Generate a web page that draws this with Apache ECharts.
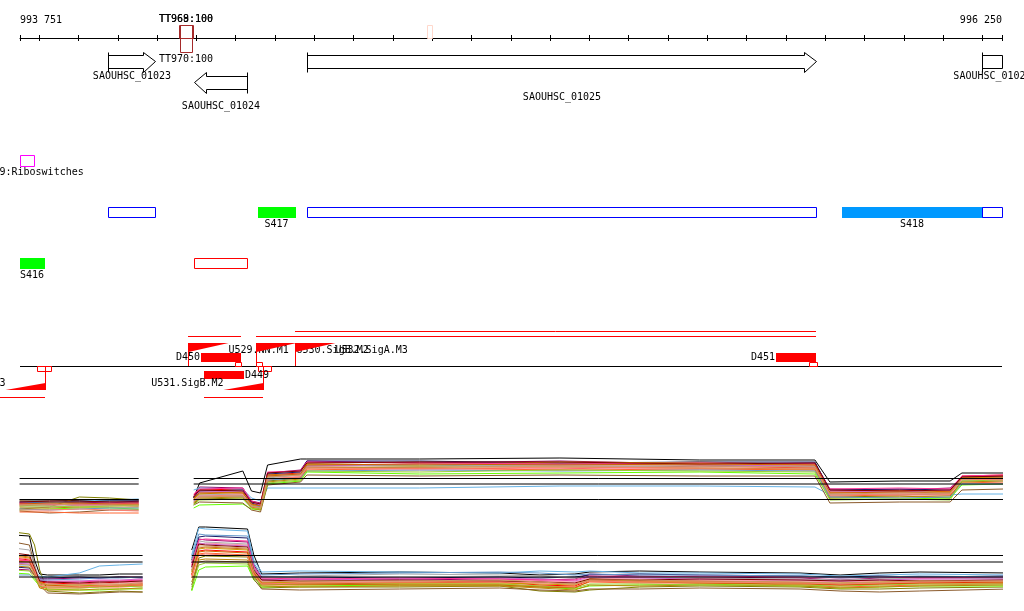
<!DOCTYPE html>
<html><head><meta charset="utf-8">
<script src="https://cdn.jsdelivr.net/npm/echarts@6/dist/echarts.min.js"></script>
<style>html,body{margin:0;padding:0;background:#fff}#c{width:1024px;height:611px}</style>
</head><body><div id="c"></div>
<script>
// ================= DATA =================
const viewStart = 993751, viewEnd = 996250;
const rulerTicks = [993751,993800,993900,994000,994100,994200,994300,994400,994500,994600,994700,994800,994900,995000,995100,995200,995300,995400,995500,995600,995700,995800,995900,996000,996100,996200,996250];
const rulerLabels = [993751, 996250];

const terminators = [
  {name:'TT968', start:994155, end:994190, strand:'+', score:100},
  {name:'TT969', start:994157, end:994188, strand:'+', score:100},
  {name:'TT970', start:994157, end:994188, strand:'-', score:100},
  {name:'TT971', start:994786, end:994799, strand:'+', score:5}
];
const genes = [
  {name:'SAOUHSC_01023', start:993975, end:994095, strand:'+'},
  {name:'SAOUHSC_01024', start:994194, end:994329, strand:'-'},
  {name:'SAOUHSC_01025', start:994481, end:995776, strand:'+'},
  {name:'SAOUHSC_01026', start:996200, end:996900, strand:'+'}
];
const riboswitches = [
  {name:'RF00059:Riboswitches', start:993733, end:993787}
];
const segments = [
  {name:'SAOUHSC_01023', start:993975, end:994095, strand:'+', kind:'cds'},
  {name:'S417', start:994356, end:994450, strand:'+', kind:'seg'},
  {name:'SAOUHSC_01025', start:994481, end:995776, strand:'+', kind:'cds'},
  {name:'S418', start:995843, end:996200, strand:'+', kind:'seg'},
  {name:'SAOUHSC_01026', start:996200, end:996900, strand:'+', kind:'cds'},
  {name:'S416', start:993751, end:993813, strand:'-', kind:'seg'},
  {name:'SAOUHSC_01024', start:994194, end:994329, strand:'-', kind:'cds'}
];
const units = [
  {start:994178, end:994314, strand:'+'},
  {start:994351, end:995776, strand:'+'},
  {start:994451, end:995776, strand:'+'},
  {start:994218, end:994369, strand:'-'},
  {start:993699, end:993815, strand:'-'}
];
const sites = [
  {start:994298, end:994314, strand:'+'},
  {start:994351, end:994368, strand:'+'},
  {start:995759, end:995778, strand:'+'},
  {start:993794, end:993830, strand:'-'},
  {start:994357, end:994391, strand:'-'}
];
const dFeatures = [
  {name:'D450', start:994211, end:994314, strand:'+'},
  {name:'D449', start:994218, end:994320, strand:'-'},
  {name:'D451', start:995676, end:995776, strand:'+'}
];
const promoters = [
  {name:'U528.SigA.M3', pos:993815, strand:'-'},
  {name:'U529.NN.M1', pos:994178, strand:'+'},
  {name:'U530.SigB.M2', pos:994351, strand:'+'},
  {name:'U531.SigB.M2', pos:994369, strand:'-'},
  {name:'U532.SigA.M3', pos:994451, strand:'+'}
];

// expression profiles (probe positions and levels)
const upperLeftX  = [993750,993826,993902,993979,994053];
const upperRightX = [994193,994208,994318,994340,994363,994381,994465,994481,994768,995125,995481,995774,995812,995990,996118,996148,996255];
const lowerLeftX  = [993734,993775,993788,993801,993821,993902,993953,994004,994063];
const lowerRightX = [994188,994206,994223,994330,994346,994366,994463,994717,994972,995074,995163,995201,995328,995481,995736,995838,995939,996041,996268];
const upperGapX = 994120, lowerGapX = 994120;

const upperLeft = [
  [4.0,4.0,3.9,4.0,4.0],
  [3.8,3.6,3.4,3.6,3.6],
  [2.2,2.6,4.6,4.4,4.0],
  [3.2,3.0,3.2,3.0,3.2],
  [3.4,3.4,3.6,3.4,3.8],
  [3.6,3.4,3.8,4.0,4.2],
  [2.0,2.2,2.4,2.4,2.2],
  [1.8,1.4,1.6,2.0,2.0],
  [3.0,2.8,2.8,3.0,2.8],
  [3.6,3.6,3.6,3.8,3.8],
  [2.6,2.6,3.0,3.0,2.8],
  [1.6,1.6,1.4,1.4,1.4],
  [2.8,3.2,3.2,3.2,3.0],
  [3.0,3.0,3.2,3.4,3.4],
  [3.4,3.2,3.0,3.2,3.4],
  [2.4,2.4,2.6,2.6,2.6],
  [2.2,2.0,2.2,2.4,2.4],
  [3.6,3.8,3.8,3.6,3.6],
  [2.8,2.8,2.6,2.8,3.0],
  [3.2,3.4,3.4,3.2,3.2],
  [2.0,2.0,2.2,2.0,1.8],
  [3.0,3.2,3.0,3.0,3.0]
];
const upperRight = [
  [4.4,7.4,9.8,5.8,5.4,11.0,12.2,12.2,12.2,12.4,12.0,12.0,7.6,7.8,7.8,9.4,9.4],
  [4.0,5.6,5.4,3.0,2.4,8.6,9.0,11.4,11.6,11.2,11.6,11.2,5.4,5.6,5.8,8.6,8.8],
  [3.2,4.2,4.4,2.6,2.2,7.8,8.4,11.0,10.8,11.2,11.0,10.6,4.6,4.8,4.4,8.0,8.2],
  [5.0,6.0,6.2,3.4,2.8,9.0,9.4,10.6,10.4,10.2,10.8,10.4,5.8,6.0,5.6,8.8,9.0],
  [4.6,6.6,6.4,3.8,3.4,9.4,10.0,11.8,11.4,11.8,11.2,11.4,6.2,6.0,6.4,8.4,8.4],
  [6.0,6.4,6.2,4.4,3.8,6.4,6.4,6.4,6.4,6.8,6.8,6.6,5.0,5.2,5.0,5.2,5.2],
  [2.4,3.0,3.2,2.2,2.0,7.2,7.8,9.6,9.2,9.4,9.6,9.2,4.2,4.2,4.4,7.0,7.2],
  [3.0,3.6,3.4,2.0,1.6,7.0,7.6,9.0,8.8,9.0,8.8,8.8,3.4,3.6,3.6,6.0,6.2],
  [3.8,5.0,5.2,3.2,2.6,8.2,8.8,10.2,10.0,10.4,10.2,10.0,5.6,5.4,5.2,8.0,8.0],
  [4.4,5.8,6.0,3.4,3.0,9.2,9.6,11.8,11.8,11.4,11.6,11.6,6.0,6.2,6.0,8.6,8.6],
  [4.0,5.2,5.0,3.0,2.8,8.4,9.0,10.8,11.0,10.8,10.6,10.8,5.2,5.0,5.4,7.8,7.8],
  [3.6,4.6,4.8,2.6,2.4,8.0,8.6,10.0,10.4,10.0,10.2,10.0,4.8,5.0,5.0,7.6,7.4],
  [4.2,5.2,5.6,3.0,2.6,9.0,9.2,11.2,11.0,11.6,11.4,11.0,5.6,5.8,5.6,8.4,8.6],
  [4.8,5.6,5.8,3.6,3.0,8.8,9.2,10.8,11.2,11.0,11.0,10.8,5.8,5.6,6.0,8.2,8.2],
  [5.2,6.2,6.4,3.8,3.2,9.6,9.8,11.6,11.4,11.2,11.4,11.2,6.2,6.4,6.2,8.8,9.0],
  [3.4,4.4,4.6,2.4,2.0,7.6,8.2,10.4,10.6,10.6,10.4,10.2,4.4,4.6,4.8,7.6,7.8],
  [3.8,4.8,4.8,2.8,2.6,8.0,8.4,9.8,10.0,9.8,10.0,9.8,4.6,4.4,4.6,7.2,7.2],
  [4.6,6.0,5.8,3.6,3.2,9.4,9.8,11.4,11.6,11.6,11.2,11.4,6.0,5.8,6.0,8.6,8.8],
  [3.0,4.0,4.2,2.4,2.2,7.4,8.0,9.8,9.6,10.0,9.8,9.6,4.0,4.2,4.0,7.8,8.0],
  [4.4,5.4,5.4,3.2,2.8,8.8,9.2,11.0,11.2,11.0,11.2,11.0,5.4,5.6,5.4,8.4,8.4],
  [4.0,4.8,5.0,2.8,2.4,8.2,8.6,10.4,10.2,10.6,10.4,10.4,5.0,5.2,5.2,8.2,8.0],
  [3.6,4.6,4.8,2.8,2.4,8.6,9.0,10.6,10.6,10.8,10.8,10.6,5.2,5.4,5.4,8.2,8.4]
];
const lowerLeft = [
  [13.0,12.8,8.0,5.2,5.0,5.0,5.0,5.2,5.2],
  [9.0,8.6,6.0,3.2,2.8,2.8,3.0,3.0,3.2],
  [13.6,13.2,11.0,6.0,1.8,1.4,1.6,1.8,1.6],
  [8.4,8.0,5.4,3.6,3.4,3.2,3.4,3.6,3.4],
  [6.2,6.0,5.0,4.2,4.2,4.4,4.4,4.6,4.6],
  [7.0,7.0,5.8,4.8,4.6,5.4,6.8,7.0,7.2],
  [5.4,5.2,4.0,2.8,2.2,2.0,2.0,2.2,2.2],
  [11.6,11.0,7.0,3.0,1.4,1.2,1.4,1.6,1.6],
  [7.6,7.4,5.4,3.4,3.0,3.2,3.2,3.4,3.6],
  [6.6,6.4,5.0,4.4,4.4,4.6,4.4,4.6,4.4],
  [10.4,10.0,7.0,4.0,3.6,3.8,3.6,3.8,3.8],
  [8.0,7.8,5.2,2.6,2.4,2.4,2.6,2.6,2.8],
  [8.8,8.4,6.2,3.6,3.0,3.0,2.8,3.0,3.0],
  [7.4,7.2,5.6,4.0,3.8,3.8,4.0,4.0,4.2],
  [8.2,7.8,5.8,3.8,3.6,3.6,3.8,3.8,4.0],
  [6.8,6.6,4.8,2.4,2.0,2.0,2.2,2.2,2.4],
  [5.0,5.0,4.4,4.0,4.0,4.2,4.4,4.4,4.6],
  [9.4,9.0,6.4,3.8,3.6,3.4,3.6,3.6,3.8],
  [6.0,5.8,4.4,2.8,2.6,2.4,2.6,2.8,2.6],
  [7.8,7.6,5.6,3.4,3.0,2.6,2.8,2.8,3.0],
  [8.6,8.2,6.0,3.0,2.6,2.6,2.8,3.0,3.0],
  [7.2,7.0,5.2,3.2,3.2,3.0,3.2,3.2,3.4]
];
const lowerRight = [
  [10.0,14.6,14.6,14.2,9.0,5.2,5.4,5.6,5.4,5.0,5.2,5.6,5.8,5.6,5.4,5.0,5.4,5.6,5.4],
  [6.0,10.4,10.6,10.2,6.0,3.6,3.4,3.6,3.8,3.6,3.2,4.2,4.0,3.8,3.6,3.2,3.4,3.6,3.8],
  [2.0,8.4,8.8,8.6,5.0,2.4,2.6,2.6,2.8,1.8,1.6,2.0,2.6,2.8,2.6,2.2,2.2,2.4,2.6],
  [5.0,9.8,10.0,9.6,5.6,3.4,3.2,3.4,3.6,3.0,2.8,4.0,3.8,3.8,3.4,3.0,3.2,3.4,3.6],
  [7.4,12.2,12.0,11.6,6.4,4.0,4.2,4.0,4.2,4.0,4.2,5.2,4.8,4.6,4.4,4.0,4.4,4.6,4.4],
  [9.0,14.4,14.2,13.8,8.0,5.6,5.8,5.6,5.4,5.8,5.6,5.8,5.4,5.4,5.2,4.8,5.0,5.2,5.0],
  [1.8,6.0,6.6,6.8,4.0,2.6,2.8,3.0,3.0,2.6,2.2,2.8,3.0,3.2,2.8,2.4,2.6,2.8,2.8],
  [3.0,7.6,7.8,7.6,4.2,2.2,2.0,2.2,2.4,2.0,1.8,2.2,2.2,2.4,2.2,1.8,1.6,1.8,2.2],
  [6.8,11.0,11.4,11.0,6.2,3.8,3.6,3.8,4.0,3.8,3.6,4.4,4.2,4.0,3.8,3.6,3.8,4.0,4.0],
  [8.0,12.6,12.8,12.4,7.0,4.6,4.6,4.4,4.6,4.4,4.6,5.0,5.2,5.0,4.8,4.6,4.8,4.6,4.8],
  [7.8,11.8,11.6,11.2,6.6,4.4,4.8,5.2,5.0,4.8,4.4,4.6,4.6,4.4,4.2,4.0,4.2,4.4,4.2],
  [4.4,9.2,9.4,9.0,5.2,3.0,3.0,3.2,3.2,2.8,2.6,3.6,3.4,3.4,3.0,2.6,2.8,3.0,3.2],
  [5.6,10.2,10.4,10.0,5.8,3.4,3.6,3.4,3.4,3.2,3.0,4.2,3.8,3.6,3.4,3.4,3.6,3.8,3.6],
  [6.4,11.4,11.2,10.8,6.2,4.2,4.0,4.2,4.4,4.2,3.8,4.6,4.4,4.2,4.0,3.8,4.0,4.2,4.2],
  [7.0,12.0,12.2,11.8,6.8,4.4,4.2,4.4,4.2,4.0,4.0,4.8,4.6,4.8,4.6,4.4,4.6,4.4,4.6],
  [3.6,8.0,8.2,8.0,4.6,2.8,2.6,2.8,2.8,2.4,2.0,3.0,2.8,3.0,2.8,2.4,2.6,2.8,3.0],
  [8.4,13.2,13.0,12.8,7.4,5.0,5.2,5.4,5.6,5.4,5.0,5.2,5.0,5.0,4.8,4.4,4.6,4.8,4.6],
  [6.6,11.2,11.0,10.6,6.0,4.0,3.8,4.0,3.8,3.6,3.4,4.2,4.0,4.2,4.0,3.8,4.0,3.8,4.0],
  [2.6,7.0,7.4,7.2,4.4,3.0,3.2,3.2,3.2,2.8,2.4,3.2,3.2,3.0,3.0,2.8,3.0,3.2,3.2],
  [5.2,9.6,9.8,9.4,5.4,3.2,3.2,3.0,3.0,2.6,2.4,3.8,3.6,3.4,3.2,3.0,3.2,3.4,3.4],
  [4.8,9.0,9.2,8.8,5.0,3.2,3.4,3.6,3.6,3.4,3.2,3.8,3.6,3.6,3.4,3.2,3.4,3.6,3.8],
  [5.8,10.8,10.8,10.4,5.8,3.6,3.8,3.8,4.0,3.6,3.2,4.0,4.0,3.8,3.6,3.4,3.6,3.8,3.8]
];
const upperRefs = [8.3, 7.2, 4.1];
const lowerRefs = [8.9, 7.6, 4.6];

// ================= STYLE / LAYOUT =================
const FONT = {fontSize: 10, fontFamily: '"DejaVu Sans Mono", "Liberation Mono", monospace'};
const exprColors = ['#000000','#d2691e','#808000','#ff0000','#990066','#66b3e6','#66ff00','#8b5a2b','#ff99aa','#1a1a66','#aaaaaa','#ff6633','#cc9900','#cc66cc','#ff3399','#b8860b','#6699cc','#800000','#99cc33','#cc6600','#fa8072','#cc9966'];
const segColors = {S416:'#00ff00', S417:'#00ff00', S418:'#0099ff'};
const L = {
  termPlus:[25,38], termMinus:[38,52], termLabelPlus:19, termLabelMinus:59,
  genePlus:{top:55,bottom:68,hTop:52,hBot:72,mid:61.5}, geneMinus:{top:76,bottom:89,hTop:72,hBot:93,mid:82.5}, head:12,
  geneLabelY:{'SAOUHSC_01023':76,'SAOUHSC_01024':106,'SAOUHSC_01025':97,'SAOUHSC_01026':76},
  ribo:[155,166], riboLabel:172,
  segPlus:[207,217], segMinus:[258,268], segLabelGap:7,
  base:366, unitPlus:[336,331], unitMinus:397,
  promW:40, promPlusTop:343, promPlusTail:352, promMinusBot:390, promMinusTail:383,
  promLabelPlus:350, promLabelMinus:383,
  dPlus:[353,362], dMinus:[371,379], dLabelPlus:357, dLabelMinus:375,
  sitePlus:[362,366], siteMinus:[366,371]
};
const RED = '#ff0000';

// ================= HELPERS =================
const clampV = v => Math.max(viewStart, Math.min(viewEnd, v));
const X = (api, v) => Math.round(api.coord([v, 0])[0]);
const txt = (text, x, y, align, color) => ({type:'text', style:Object.assign({text, x, y, align, verticalAlign:'middle', fill:color||'#000'}, FONT)});
const rect = (x1, x2, y1, y2, fill, stroke) => ({type:'rect', shape:{x:x1+(stroke?0.5:0), y:y1+(stroke?0.5:0), width:x2-x1, height:y2-y1}, style:{fill:fill||'none', stroke:stroke||null, lineWidth:1}});
const line = (x1, y1, x2, y2, c) => ({type:'line', shape:{x1, y1, x2, y2}, style:{stroke:c, lineWidth:1}});

function customSeries(arr, render, extra) {
  return Object.assign({
    type:'custom', xAxisIndex:0, yAxisIndex:0, silent:true, clip:false,
    encode:{x:[0,1], y:2},
    data: arr.map(d => [d.start !== undefined ? d.start : d.pos, d.end !== undefined ? d.end : d.pos, 0]),
    renderItem:(params, api) => render(arr[params.dataIndex], api)
  }, extra || {});
}

// ================= SERIES =================
const series = [];

series.push(customSeries(terminators, (t, api) => {
  const x1 = X(api, clampV(t.start)), x2 = X(api, clampV(t.end));
  const yy = t.strand === '+' ? L.termPlus : L.termMinus;
  const strong = t.score >= 50;
  const ch = [rect(x1, x2, yy[0], yy[1], null, strong ? '#a52a2a' : '#ffd8cc')];
  if (strong) ch.push(txt(t.name + ':' + t.score, (x1 + x2) / 2, t.strand === '+' ? L.termLabelPlus : L.termLabelMinus, 'center'));
  return {type:'group', children:ch};
}));

series.push(customSeries(genes, (g, api) => {
  const s = clampV(g.start), e = clampV(g.end);
  const a = X(api, s) + 0.5, b = X(api, e) + 0.5;
  const G = g.strand === '+' ? L.genePlus : L.geneMinus;
  const top = G.top + 0.5, bot = G.bottom + 0.5, ht = G.hTop + 0.5, hb = G.hBot + 0.5, h = L.head;
  let pts, stopLine;
  if (g.strand === '+') {
    const hasHead = g.end <= viewEnd;
    pts = hasHead ? [[a,top],[b-h,top],[b-h,ht],[b,G.mid],[b-h,hb],[b-h,bot],[a,bot]] : [[a,top],[b,top],[b,bot],[a,bot]];
    stopLine = line(a, ht, a, hb, '#000');
  } else {
    const hasHead = g.start >= viewStart;
    pts = hasHead ? [[b,top],[a+h,top],[a+h,ht],[a,G.mid],[a+h,hb],[a+h,bot],[b,bot]] : [[b,top],[a,top],[a,bot],[b,bot]];
    stopLine = line(b, ht, b, hb, '#000');
  }
  return {type:'group', children:[
    {type:'polygon', shape:{points:pts}, style:{fill:'#fff', stroke:'#000', lineWidth:1}},
    stopLine,
    txt(g.name, (a + b) / 2, L.geneLabelY[g.name], 'center')
  ]};
}));

series.push(customSeries(riboswitches, (r, api) => {
  const cx = (api.coord([r.start,0])[0] + api.coord([r.end,0])[0]) / 2;
  const x1 = X(api, clampV(r.start)), x2 = X(api, clampV(r.end));
  return {type:'group', children:[
    rect(x1, x2, L.ribo[0], L.ribo[1], null, '#ff00ff'),
    txt(r.name, cx, L.riboLabel, 'center')
  ]};
}));

series.push(customSeries(segments, (s, api) => {
  const x1 = X(api, clampV(s.start)), x2 = X(api, clampV(s.end));
  const yy = s.strand === '+' ? L.segPlus : L.segMinus;
  if (s.kind === 'cds') return rect(x1, x2, yy[0], yy[1], null, s.strand === '+' ? '#0000ff' : RED);
  return {type:'group', children:[
    rect(x1, x2 + 1, yy[0], yy[1] + 1, segColors[s.name]),
    txt(s.name, (x1 + x2) / 2, yy[1] + L.segLabelGap, 'center')
  ]};
}));

series.push(customSeries([{start:viewStart, end:viewEnd}], (d, api) => {
  return line(X(api, d.start), L.base + 0.5, X(api, d.end), L.base + 0.5, '#000');
}));

const laneEnds = {'+':[], '-':[]};
const unitLane = units.map(u => {
  const ends = laneEnds[u.strand];
  let k = 0;
  while (ends[k] !== undefined && ends[k] >= u.start) k++;
  ends[k] = u.end;
  return k;
});
series.push(customSeries(units, (u, api) => {
  const i = units.indexOf(u);
  const y = (u.strand === '+' ? L.unitPlus[unitLane[i]] : L.unitMinus) + 0.5;
  return line(X(api, u.start), y, X(api, u.end), y, RED);
}));

series.push(customSeries(sites, (s, api) => {
  const x1 = X(api, s.start), x2 = X(api, s.end);
  const yy = s.strand === '+' ? L.sitePlus : L.siteMinus;
  return rect(x1, x2, yy[0], yy[1], '#fff', RED);
}));

series.push(customSeries(dFeatures, (d, api) => {
  const x1 = X(api, d.start), x2 = X(api, d.end);
  const plus = d.strand === '+';
  const yy = plus ? L.dPlus : L.dMinus;
  return {type:'group', children:[
    rect(x1, x2, yy[0], yy[1], RED),
    plus ? txt(d.name, x1 - 1, L.dLabelPlus, 'right') : txt(d.name, x2 + 1, L.dLabelMinus, 'left')
  ]};
}));

series.push(customSeries(promoters, (p, api) => {
  const x = X(api, p.pos) + 0.5, w = L.promW;
  if (p.strand === '+') {
    return {type:'group', children:[
      txt(p.name, x + w, L.promLabelPlus, 'left'),
      line(x, L.base, x, L.promPlusTop, RED),
      {type:'polygon', shape:{points:[[x, L.promPlusTop],[x + w, L.promPlusTop],[x, L.promPlusTail]]}, style:{fill:RED}}
    ]};
  }
  return {type:'group', children:[
    txt(p.name, x - w, L.promLabelMinus, 'right'),
    line(x, L.base, x, L.promMinusBot, RED),
    {type:'polygon', shape:{points:[[x, L.promMinusBot],[x - w, L.promMinusBot],[x, L.promMinusTail]]}, style:{fill:RED}}
  ]};
}));

function exprSeries(leftX, left, rightX, right, gapX, axis) {
  left.forEach((vals, i) => {
    const data = leftX.map((x, k) => [x, vals[k]]).concat([[gapX, null]], rightX.map((x, k) => [x, right[i][k]]));
    series.push({type:'line', xAxisIndex:axis, yAxisIndex:axis - 1, data, showSymbol:false, symbol:'none',
      clip:false, silent:true, connectNulls:false, lineStyle:{color:exprColors[i], width:1}});
  });
}
function refSeries(leftX, rightX, refs, gapX, axis) {
  refs.forEach(r => {
    series.push({type:'line', xAxisIndex:axis, yAxisIndex:axis - 1, symbol:'none', clip:false, silent:true,
      data:[[leftX[0], r],[leftX[leftX.length-1], r],[gapX, null],[rightX[0], r],[rightX[rightX.length-1], r]],
      lineStyle:{color:'#000', width:1}, z:5});
  });
}
exprSeries(upperLeftX, upperLeft, upperRightX, upperRight, upperGapX, 2);
exprSeries(lowerLeftX, lowerLeft, lowerRightX, lowerRight, lowerGapX, 3);
refSeries(upperLeftX, upperRightX, upperRefs, upperGapX, 2);
refSeries(lowerLeftX, lowerRightX, lowerRefs, lowerGapX, 3);

// ================= OPTION =================
const fmt = v => String(v).replace(/(\d{3})(\d{3})$/, '$1 $2');
const hiddenX = (gi) => ({type:'value', gridIndex:gi, min:viewStart, max:viewEnd, show:false});
const option = {
  animation:false,
  backgroundColor:'#fff',
  grid:[
    {left:20, right:22, top:38, height:362},
    {left:20, right:22, top:440, height:80},
    {left:20, right:22, top:520, height:80},
    {left:20, right:22, top:30, height:8}
  ],
  xAxis:[
    {type:'value', gridIndex:0, position:'top', min:viewStart, max:viewEnd,
     axisLine:{show:true, onZero:false, lineStyle:{color:'#000', width:1}},
     axisTick:{show:true, length:3, inside:false, customValues:rulerTicks, lineStyle:{color:'#000'}},
     axisLabel:{show:true, customValues:rulerLabels, formatter:fmt, margin:13, color:'#000',
       fontSize:10, fontFamily:FONT.fontFamily, alignMinLabel:'left', alignMaxLabel:'right'},
     splitLine:{show:false}},
    hiddenX(1),
    hiddenX(2),
    {type:'value', gridIndex:3, position:'bottom', min:viewStart, max:viewEnd,
     axisLine:{show:false, onZero:false}, axisLabel:{show:false}, splitLine:{show:false},
     axisTick:{show:true, length:3, inside:false, customValues:rulerTicks, lineStyle:{color:'#000'}}}
  ],
  yAxis:[
    {type:'value', gridIndex:0, min:0, max:1, show:false},
    {type:'value', gridIndex:1, min:0, max:16, show:false},
    {type:'value', gridIndex:2, min:0, max:16, show:false},
    {type:'value', gridIndex:3, min:0, max:1, show:false}
  ],
  series
};
// expression series reference x axes 2 and 3 -> grids 1 and 2
series.forEach(s => { if (s.type === 'line') s.xAxisIndex = s.xAxisIndex - 1; });
const chart = echarts.init(document.getElementById('c'), null, {renderer:'canvas'});
chart.setOption(option);
</script>
</body></html>
